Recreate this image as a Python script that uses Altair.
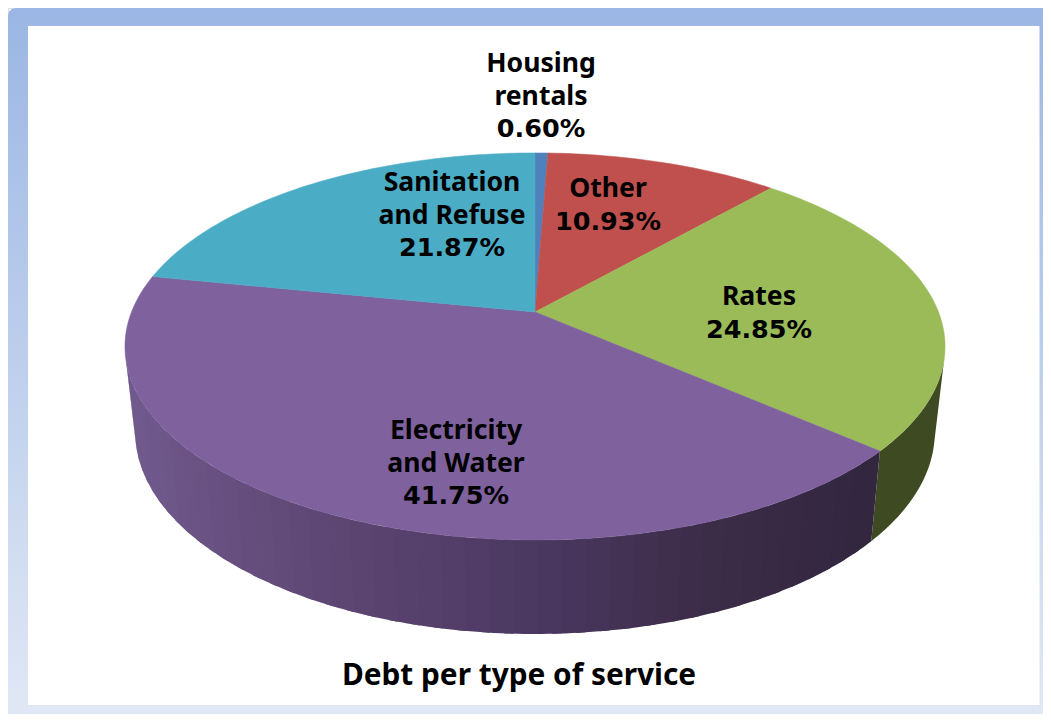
import math
import altair as alt
import pandas as pd

# ---- chart values ----
names = ["Housing rentals", "Other", "Rates", "Electricity and Water", "Sanitation and Refuse"]
values = [0.60, 10.93, 24.85, 41.75, 21.87]
title_text = "Debt per type of service"
label_lines = [["Housing", "rentals"], ["Other"], ["Rates"], ["Electricity", "and Water"], ["Sanitation", "and Refuse"]]

# ---- styles / layout ----
top_colors = ["#4f81bd", "#c0504d", "#9bbb59", "#7f619e", "#4bacc6"]
FONT = "Noto Sans"
NUM_FONT = "DejaVu Sans"
label_anchor = [(541, 64), (608, 189), (759, 297), (456, 431), (452, 183)]
LINE = 32.5
CX, CY, SX, SY, K = 535, 312, 403.5, 187.4, 0.178
W, H = 1035, 706
WALL_FROM, WALL_TO = math.radians(103), math.radians(257)


def project(theta):
    u, v = math.sin(theta), math.cos(theta)
    d = 1 + K * v
    return CX + SX * u / d, CY - SY * v / d


def lower(x, y):
    return CX + 0.975 * (x - CX), y + 94 - (540 - y) * 0.044


def mix(stops, x):
    for (x0, c0), (x1, c1) in zip(stops, stops[1:]):
        if x <= x1:
            t = max(0, (x - x0) / (x1 - x0))
            rgb = [round(int(c0[i:i+2], 16) * (1 - t) + int(c1[i:i+2], 16) * t) for i in (1, 3, 5)]
            return "#%02x%02x%02x" % tuple(rgb)
    return stops[-1][1]


elec_stops = [(130, "#70598c"), (330, "#5d4672"), (535, "#4a3860"), (700, "#3c2c48"), (880, "#32263f")]
rates_stops = [(870, "#3e4a22"), (950, "#3e4a22")]

total = sum(values)
cum = 0
top_rows, wall_rows = [], []
for i, (name, v) in enumerate(zip(names, values)):
    a0 = cum / total * 2 * math.pi
    cum += v
    a1 = cum / total * 2 * math.pi
    n = max(3, int(v * 3))
    top_rows.append({"x": CX, "y": CY, "k": i, "o": 0, "c": top_colors[i]})
    for j in range(n + 1):
        x, y = project(a0 + (a1 - a0) * j / n)
        top_rows.append({"x": x, "y": y, "k": i, "o": j + 1, "c": top_colors[i]})
    if i in (2, 3):
        w0, w1 = max(a0, WALL_FROM), min(a1, WALL_TO)
        m = 1 if i == 2 else 44
        sub = 40 if i == 2 else 5
        for j in range(m):
            # each band runs a little under the next one, so no seam shows
            extra = 0 if j == m - 1 else 0.4
            pts = [project(w0 + (w1 - w0) * (j + (1 + extra) * s / sub) / m) for s in range(sub + 1)]
            ring = pts + [lower(*p) for p in reversed(pts)]
            col = mix(elec_stops if i == 3 else rates_stops, (pts[0][0] + pts[-1][0]) / 2)
            for o, (px, py) in enumerate(ring):
                wall_rows.append({"x": px, "y": py, "k": i * 1000 + j, "o": o, "c": col})

text_rows = []
for lines, v, (ax, ay) in zip(label_lines, values, label_anchor):
    for n, t in enumerate(lines):
        text_rows.append({"x": ax, "y": ay + n * LINE, "t": t, "f": FONT})
    text_rows.append({"x": ax, "y": ay + len(lines) * LINE, "t": f"{v:.2f}%", "f": NUM_FONT})

X = alt.Scale(domain=[8, 8 + W], range=[0, W])
Y = alt.Scale(domain=[8, 8 + H], range=[0, H])
ax_x = alt.X("x:Q", scale=X, axis=None)
ax_y = alt.Y("y:Q", scale=Y, axis=None)


def polys(rows, sw):
    return alt.Chart(pd.DataFrame(rows)).mark_line(interpolate="linear-closed", strokeWidth=sw).encode(
        x=ax_x, y=ax_y,
        detail="k:Q",
        order="o:Q",
        fill=alt.Fill("c:N", scale=None),
        stroke=alt.Stroke("c:N", scale=None),
    )


frame = alt.Chart(pd.DataFrame([{"x": 8, "x2": 1070, "y": 8, "y2": 732}])).mark_rect(
    cornerRadius=8, clip=True,
    fill=alt.Gradient(gradient="linear", x1=0, y1=0, x2=0, y2=1,
                      stops=[alt.GradientStop(offset=0, color="#9bb6e4"),
                             alt.GradientStop(offset=1, color="#e2e9f5")]),
).encode(x=alt.X("x:Q", scale=X, axis=None), x2="x2:Q", y=alt.Y("y:Q", scale=Y, axis=None), y2="y2:Q")

panel = alt.Chart(pd.DataFrame([{"x": 28, "x2": 1039.5, "y": 26, "y2": 705}])).mark_rect(fill="white").encode(
    x=alt.X("x:Q", scale=X, axis=None), x2="x2:Q", y=alt.Y("y:Q", scale=Y, axis=None), y2="y2:Q")

main_rows = [r for r in text_rows if r["f"] == FONT]
num_rows = [r for r in text_rows if r["f"] == NUM_FONT]
labels = alt.Chart(pd.DataFrame(main_rows)).mark_text(
    font=FONT, fontWeight="bold", fontSize=26.6, color="black", baseline="middle", align="center"
).encode(x=ax_x, y=ax_y, text="t:N")
numbers = alt.Chart(pd.DataFrame(num_rows)).mark_text(
    font=NUM_FONT, fontWeight="bold", fontSize=25.5, color="black", baseline="middle", align="center"
).encode(x=ax_x, y=ax_y, text="t:N")

title = alt.Chart(pd.DataFrame([{"x": 519, "y": 676, "t": title_text}])).mark_text(
    font=FONT, fontWeight="bold", fontSize=29.8, color="black", baseline="middle", align="center"
).encode(x=ax_x, y=ax_y, text="t:N")

chart = alt.layer(frame, panel, polys(wall_rows, 0), polys(top_rows, 0.5), labels, numbers, title).properties(
    width=W, height=H, padding=0, autosize=alt.AutoSizeParams(type="none", contains="content")
).configure_view(stroke=None).configure(background="white")

chart.save("out.html", embed_options={"renderer": "svg", "actions": False})
